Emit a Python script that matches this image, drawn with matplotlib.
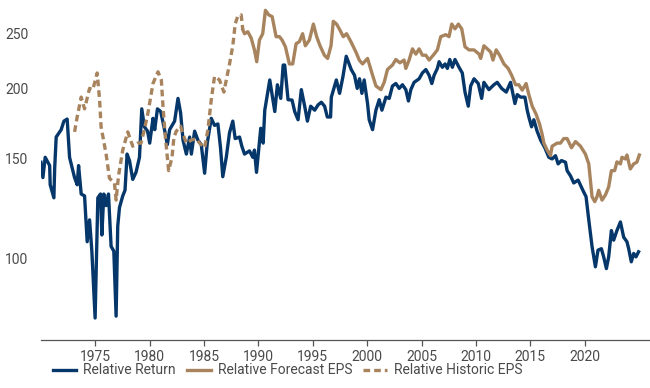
import matplotlib
matplotlib.use("Agg")
from matplotlib import pyplot as plt
from matplotlib.ticker import FixedLocator, NullLocator

# relative return (navy)
ret_year = [1970.00, 1970.18, 1970.39, 1970.80, 1970.85, 1971.19, 1971.26, 1971.40, 1971.86, 1972.11,
            1972.41, 1972.63, 1973.09, 1973.33, 1973.46, 1973.70, 1974.01, 1974.25, 1974.47, 1974.68,
            1974.98, 1975.23, 1975.48, 1975.60, 1975.78, 1975.99, 1976.21, 1976.45, 1976.70, 1976.91,
            1977.06, 1977.22, 1977.52, 1977.73, 1977.92, 1978.14, 1978.44, 1978.74, 1979.06, 1979.27,
            1979.51, 1979.80, 1980.00, 1980.30, 1980.46, 1980.71, 1981.01, 1981.31, 1981.62, 1981.83,
            1982.29, 1982.60, 1982.84, 1983.06, 1983.37, 1983.67, 1983.83, 1984.13, 1984.43, 1984.74,
            1985.05, 1985.29, 1985.66, 1985.96, 1986.27, 1986.51, 1986.72, 1987.04, 1987.34, 1987.64,
            1987.86, 1988.26, 1988.47, 1988.72, 1989.17, 1989.48, 1989.63, 1989.82, 1990.21, 1990.43,
            1990.58, 1991.04, 1991.50, 1991.74, 1992.05, 1992.27, 1992.41, 1992.72, 1993.09, 1993.33,
            1993.64, 1993.94, 1994.25, 1994.50, 1994.80, 1995.17, 1995.48, 1995.78, 1996.08, 1996.33,
            1996.63, 1996.70, 1997.16, 1997.46, 1997.77, 1998.07, 1998.38, 1998.53, 1998.83, 1999.08,
            1999.29, 1999.51, 1999.72, 2000.03, 2000.18, 2000.49, 2000.80, 2001.10, 2001.35, 2001.72,
            2002.02, 2002.32, 2002.63, 2002.94, 2003.24, 2003.55, 2003.79, 2004.01, 2004.31, 2004.77,
            2005.07, 2005.39, 2005.69, 2005.94, 2006.15, 2006.45, 2006.61, 2006.91, 2007.16, 2007.37,
            2007.59, 2007.83, 2008.07, 2008.44, 2008.74, 2008.99, 2009.29, 2009.51, 2009.82, 2010.21,
            2010.52, 2010.73, 2011.19, 2011.65, 2011.95, 2012.36, 2012.78, 2013.18, 2013.58, 2013.79,
            2014.10, 2014.50, 2014.71, 2014.86, 2015.11, 2015.32, 2015.62, 2015.94, 2016.33, 2016.70,
            2017.00, 2017.31, 2017.55, 2017.86, 2018.23, 2018.38, 2018.69, 2018.99, 2019.39, 2019.75,
            2019.91, 2020.12, 2020.37, 2020.67, 2020.98, 2021.22, 2021.53, 2021.74, 2021.99, 2022.20,
            2022.45, 2022.66, 2022.96, 2023.28, 2023.58, 2023.88, 2024.04, 2024.28, 2024.50, 2024.71,
            2024.95]
ret_val = [148, 139, 151, 146, 135, 128, 144, 164, 169, 175,
           176.5, 151, 139, 135, 146, 130, 129, 107, 117, 103,
           78.4, 128, 130, 110, 130, 124, 130, 105, 103, 79,
           114, 123, 129, 132, 153, 149, 138, 142, 151, 184,
           171, 168, 160, 177, 169, 184, 182, 171, 159, 169,
           175, 192, 181, 162, 153, 164, 153, 168, 162, 159,
           141.5, 160, 177, 172, 173, 157, 139.5, 151, 167, 175,
           163, 164, 158, 153, 155, 151, 155.5, 142, 170, 160,
           183, 207, 182, 203, 192, 220, 220, 191, 190.7, 182,
           176, 199, 186, 175, 186, 183, 187, 189, 186, 178,
           178, 193, 207, 196, 210, 228, 220, 216, 211, 200,
           208, 196, 207, 188, 176, 169, 183, 191, 183, 193,
           192, 202, 204, 200, 203, 199, 190, 199, 205, 208,
           213, 216, 211, 204, 211, 217, 223, 218, 221, 217,
           225, 218, 225, 218, 213, 197, 186, 202, 208, 204,
           192, 205, 199, 203, 205, 200, 197, 205, 188, 195,
           193, 193, 183, 178, 171, 176, 168, 162, 157, 151,
           150, 152, 147, 149, 148, 143, 140, 136, 137.6, 133,
           131, 128.6, 117, 105, 96.6, 103.4, 104, 100.6, 95.9, 100.6,
           112, 107.7, 112, 116, 109, 107, 104, 98.6, 102, 100.6,
           102.7]

# relative forecast EPS (solid tan)
fc_year = [1988.56, 1988.72, 1989.02, 1989.33, 1989.63, 1989.84, 1990.09, 1990.39, 1990.64, 1990.94,
           1991.26, 1991.62, 1991.93, 1992.17, 1992.48, 1992.84, 1993.15, 1993.46, 1993.76, 1994.06,
           1994.31, 1994.68, 1995.05, 1995.35, 1995.66, 1996.06, 1996.36, 1996.67, 1996.88, 1997.18,
           1997.43, 1997.80, 1998.10, 1998.50, 1998.96, 1999.27, 1999.57, 2000.03, 2000.43, 2000.80,
           2001.26, 2001.56, 2001.86, 2002.32, 2002.63, 2003.00, 2003.39, 2003.55, 2003.85, 2004.16,
           2004.47, 2004.77, 2005.07, 2005.39, 2005.69, 2006.15, 2006.45, 2006.76, 2007.22, 2007.52,
           2007.77, 2008.07, 2008.38, 2008.69, 2008.99, 2009.36, 2009.82, 2010.28, 2010.43, 2010.73,
           2011.04, 2011.35, 2011.56, 2011.86, 2012.17, 2012.57, 2012.96, 2013.28, 2013.64, 2013.94,
           2014.25, 2014.61, 2014.86, 2015.17, 2015.53, 2015.84, 2016.08, 2016.24, 2016.54, 2016.85,
           2017.00, 2017.46, 2017.77, 2018.07, 2018.38, 2018.78, 2019.15, 2019.61, 2020.06, 2020.37,
           2020.52, 2020.67, 2020.92, 2021.13, 2021.28, 2021.59, 2021.90, 2022.20, 2022.45, 2022.75,
           2022.96, 2023.28, 2023.42, 2023.73, 2023.88, 2024.19, 2024.50, 2024.79, 2025.02]
fc_val = [254, 250, 252, 245.6, 234, 223, 243.6, 250, 275, 270,
          268, 247, 247, 243.6, 237, 221, 221, 240, 242, 250,
          238, 243.6, 260, 247, 238, 229, 226, 238, 263, 260,
          255, 247, 250, 242, 232, 224.5, 221, 226, 213, 202,
          199, 205, 216, 220, 225, 222, 224.5, 217, 224.5, 235,
          230, 235, 229, 229, 224.5, 230, 234, 247, 249, 247,
          260, 255, 260, 255, 237, 234, 234, 230, 226, 238,
          235, 232, 224.5, 234, 229, 221, 217, 211, 203, 203,
          198.6, 204, 195, 186, 180, 173, 166, 160, 155.5, 152,
          158, 160, 160, 163, 163, 157, 161, 158, 153, 147,
          137.6, 128.6, 126, 128.6, 132, 126.8, 129.5, 133.8, 143, 143,
          148.2, 147, 151, 150, 152.4, 144, 147, 148, 152.4]

# relative historic EPS (dashed tan)
hist_year = [1973.09, 1973.33, 1973.70, 1974.01, 1974.47, 1974.77, 1975.17, 1975.39, 1975.53, 1975.99,
             1976.30, 1976.76, 1976.91, 1977.13, 1977.52, 1977.98, 1978.44, 1978.90, 1979.20, 1979.51,
             1979.84, 1980.30, 1980.76, 1981.07, 1981.22, 1981.44, 1981.74, 1982.05, 1982.23, 1982.45,
             1982.84, 1983.06, 1983.37, 1983.83, 1984.28, 1984.59, 1985.05, 1985.35, 1985.66, 1985.96,
             1986.42, 1986.82, 1987.04, 1987.34, 1987.64, 1987.86, 1988.10, 1988.41, 1988.56]
hist_val = [167.5, 178, 193, 184, 200, 199, 213, 191, 171, 153,
            138.6, 136, 126.8, 140, 155.5, 167.5, 158, 160, 160, 169,
            181, 204, 214, 207, 186, 164, 143, 151, 164, 168,
            171.5, 166, 160, 162, 163, 160, 157, 169, 191, 210,
            207, 197, 207, 221, 238, 260, 268.7, 270, 254]

navy = "#06376a"
tan = "#a8845e"
grey = "#555555"
plt.rcParams['font.family'] = ['Roboto', 'DejaVu Sans']

fig = plt.figure(figsize=(6.5, 3.88), dpi=100)
ax = fig.add_axes([0.063, 0.124, 0.937, 0.863])

ax.plot(ret_year, ret_val, color=navy, lw=2.4, label="Relative Return", solid_joinstyle="round")
ax.plot(fc_year, fc_val, color=tan, lw=2.4, label="Relative Forecast EPS", solid_joinstyle="round")
ax.plot(hist_year, hist_val, color=tan, lw=2.4, ls=(0, (2.0, 1.2)), label="Relative Historic EPS")

ax.set_yscale("log")
ax.set_ylim(71.7, 281)
ax.set_xlim(1970, 2026)
ax.yaxis.set_major_locator(FixedLocator([100, 150, 200, 250]))
ax.yaxis.set_minor_locator(NullLocator())
ax.set_yticklabels(["100", "150", "200", "250"])
ax.set_xticks(range(1975, 2025, 5))

for side in ["left", "right", "top"]:
    ax.spines[side].set_visible(False)
ax.spines["bottom"].set_color(grey)
ax.spines["bottom"].set_linewidth(0.9)
ax.tick_params(axis="y", length=0, pad=9, labelsize=10, labelcolor="#4a4a4a")
ax.tick_params(axis="x", length=4, width=0.9, color=grey, pad=3, labelsize=10, labelcolor="#4a4a4a")

fig.legend(loc="lower left", bbox_to_anchor=(0.062, -0.005), ncol=3, frameon=False,
           fontsize=10, handlelength=1.7, handletextpad=0.5, columnspacing=0.8,
           labelcolor="#4a4a4a")

fig.savefig("out.png", dpi=100)
